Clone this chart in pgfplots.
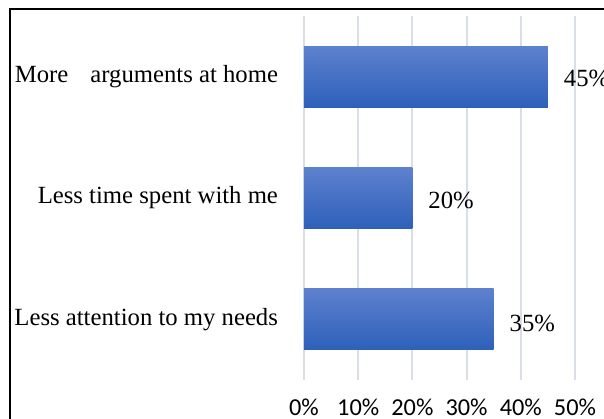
\documentclass[border=0pt]{standalone}
\usepackage{pgfplots}
\pgfplotsset{compat=1.18}
\usepackage{fontspec}
\setmainfont{Liberation Serif}
\newfontfamily\carlito{Carlito}
\definecolor{gridc}{RGB}{218,223,231}
\definecolor{bartop}{RGB}{93,129,206}
\definecolor{barbot}{RGB}{46,96,186}
\begin{document}
\begin{tikzpicture}
\useasboundingbox (-152bp,-19.5bp) rectangle (150bp,190bp);
\draw[line width=1bp] (-147bp,-40bp) -- (-147bp,185.5bp) -- (170bp,185.5bp);
\begin{axis}[
  at={(0,0)}, anchor=south west,
  scale only axis,
  width=135.5bp, height=182bp,
  xmin=0, xmax=50, ymin=-0.5, ymax=2.5,
  xtick={0,10,20,30,40,50},
  xticklabels={0\%,10\%,20\%,30\%,40\%,50\%},
  ytick={0,1,2},
  yticklabels={Less attention to my needs, Less time spent with me, More\hspace{11bp}arguments at home},
  axis line style={draw=none},
  major tick length=0pt,
  xmajorgrids,
  grid style={gridc, line width=1bp},
  /pgf/number format/assume math mode=true,
  x tick label style={font=\carlito\fontsize{12.2}{14}\selectfont, yshift=-6bp},
  y tick label style={font=\fontsize{12.4}{14}\selectfont, xshift=-9.5bp},
  xbar, bar width=30.5bp, bar shift=0pt,
  nodes near coords={\pgfmathprintnumber{\pgfplotspointmeta}\%},
  nodes near coords style={font=\fontsize{12.4}{14}\selectfont, anchor=west, xshift=4.5bp, yshift=-1bp},
  point meta=x,
]
\addplot[draw=none, top color=bartop, bottom color=barbot, nodes near coords style={yshift=-1bp}] coordinates {(35,0)};
\addplot[draw=none, top color=bartop, bottom color=barbot] coordinates {(20,1)};
\addplot[draw=none, top color=bartop, bottom color=barbot] coordinates {(45,2)};
\end{axis}
\end{tikzpicture}
\end{document}
